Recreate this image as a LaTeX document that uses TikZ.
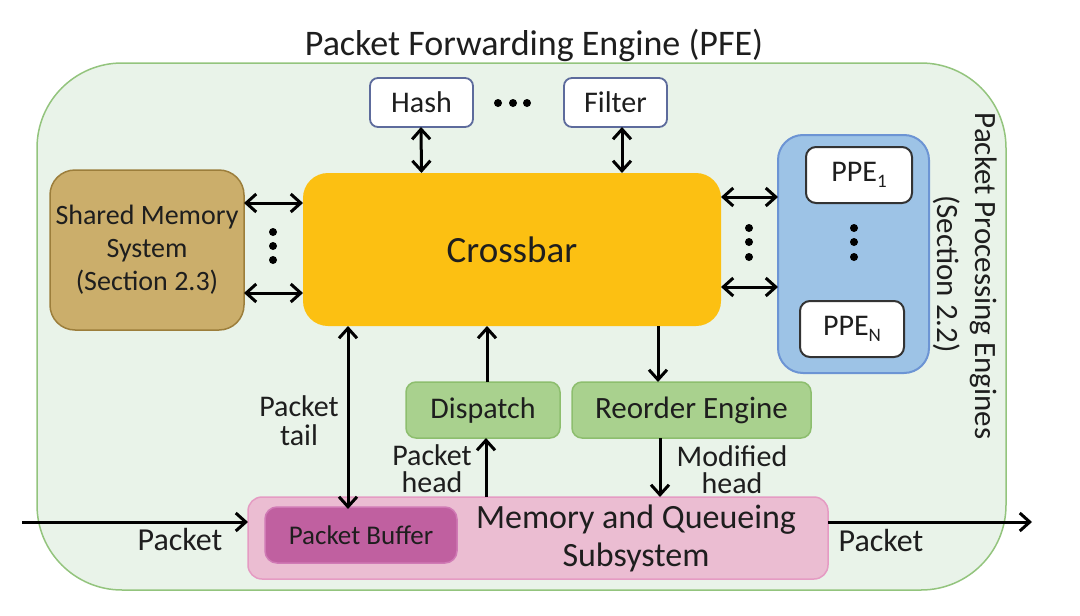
\documentclass[tikz,border=0pt]{standalone}
\usepackage{fontspec}
\setmainfont{Carlito}
\usetikzlibrary{arrows.meta,calc}
\definecolor{outerfill}{HTML}{E9F3E9}
\definecolor{outerdraw}{HTML}{93C47D}
\definecolor{hashdraw}{HTML}{5D6B9C}
\definecolor{xbar}{HTML}{FCC012}
\definecolor{shfill}{HTML}{CBAE6B}
\definecolor{shdraw}{HTML}{9C7E3B}
\definecolor{ppefill}{HTML}{9DC3E6}
\definecolor{ppedraw}{HTML}{6C94D4}
\definecolor{grfill}{HTML}{A9D18E}
\definecolor{grdraw}{HTML}{8DBE6E}
\definecolor{pkfill}{HTML}{EBBDD2}
\definecolor{pkdraw}{HTML}{E59BC3}
\definecolor{bffill}{HTML}{C060A0}
\definecolor{bfdraw}{HTML}{D07AB5}
\definecolor{txt}{HTML}{1E1E1E}
\newcommand{\fs}[2]{\fontsize{#1}{#2}\selectfont}
\tikzset{
  box/.style={inner sep=0pt, outer sep=0pt, align=center, text=txt},
  conn/.style={line width=3pt, black},
  tip/.style={-{Straight Barb[length=10pt,width=18pt]}},
  dtip/.style={{Straight Barb[length=10pt,width=18pt]}-{Straight Barb[length=10pt,width=18pt]}},
  lbl/.style={inner sep=0pt, align=center, text=txt, font=\fs{30}{27}},
}
\begin{document}
\begin{tikzpicture}[x=1pt,y=-1pt]
\useasboundingbox (0,0) rectangle (1080,616);
% outer PFE box
\node[box, draw=outerdraw, fill=outerfill, line width=1.5pt, rounded corners=85pt,
  minimum width=969pt, minimum height=527pt] (pfe) at (521.5,326.5) {};
\node[lbl, anchor=base, font=\fs{36}{36}] (title) at (534,55) {Packet Forwarding Engine (PFE)};
% Hash / Filter
\node[box, draw=hashdraw, fill=white, line width=1.8pt, rounded corners=8pt,
  minimum width=103pt, minimum height=49pt, font=\fs{30}{30}] (hash) at (421.5,102.5) {Hash};
\node[box, draw=hashdraw, fill=white, line width=1.8pt, rounded corners=8pt,
  minimum width=103pt, minimum height=49pt, font=\fs{30}{30}] (filter) at (615.5,102.5) {Filter};
\fill[black] (498,103) circle (4pt) (513,103) circle (4pt) (527,103) circle (4pt);
% Crossbar
\node[box, fill=xbar, rounded corners=25pt, minimum width=418pt, minimum height=153pt,
  font=\fs{37}{37}] (xb) at (512,249.5) {Crossbar};
% Shared memory
\node[box, draw=shdraw, fill=shfill, line width=1.5pt, rounded corners=25pt,
  minimum width=194pt, minimum height=160pt, font=\fs{28}{33}] (shm) at (147,250)
  {Shared Memory\\System\\(Section 2.3)};
% PPE container
\node[box, draw=ppedraw, fill=ppefill, line width=2pt, rounded corners=25pt,
  minimum width=151pt, minimum height=238pt] (ppe) at (853.5,254) {};
\node[box, draw=black!80, fill=white, line width=2pt, rounded corners=10pt,
  minimum width=106pt, minimum height=56pt, font=\fs{30}{30}] (ppe1) at (859,175)
  {PPE\raisebox{-0.22em}{\fs{19}{19}1}};
\node[box, draw=black!80, fill=white, line width=2pt, rounded corners=10pt,
  minimum width=104pt, minimum height=56pt, font=\fs{30}{30}] (ppen) at (852,329)
  {PPE\raisebox{-0.22em}{\fs{19}{19}N}};
\fill[black] (854,228) circle (4pt) (854,242) circle (4pt) (854,257) circle (4pt);
\node[lbl, rotate=-90, font=\fs{31}{31}] (ppelbl) at (984,276) {Packet Processing Engines};
\node[lbl, rotate=-90, font=\fs{31}{31}] (ppesec) at (947,274) {(Section 2.2)};
% Dispatch / Reorder
\node[box, draw=grdraw, fill=grfill, line width=1.5pt, rounded corners=10pt,
  minimum width=154pt, minimum height=56pt, font=\fs{30}{30}] (disp) at (483,410) {Dispatch};
\node[box, draw=grdraw, fill=grfill, line width=1.5pt, rounded corners=10pt,
  minimum width=239pt, minimum height=56pt, font=\fs{31}{31}] (reord) at (691.5,410) {Reorder Engine};
% Memory and queueing
\node[box, draw=pkdraw, fill=pkfill, line width=1.5pt, rounded corners=14pt,
  minimum width=580pt, minimum height=82pt] (mem) at (538,538) {};
\node[lbl, font=\fs{34}{38}] (memtxt) at (636,538) {Memory and Queueing\\Subsystem};
\node[box, draw=bfdraw, fill=bffill, line width=1.5pt, rounded corners=12pt,
  minimum width=192pt, minimum height=56pt, font=\fs{27}{27}] (buf) at (361,535) {Packet Buffer};
% connectors
\draw[conn, dtip] ([xshift=-0.5pt]hash.south) -- (hash.south |- xb.north);
\draw[conn, dtip] ([xshift=6.5pt]filter.south) -- ([xshift=6.5pt]filter.south |- xb.north);
\draw[conn, dtip] (shm.east |- 0,203) -- (xb.west |- 0,203);
\draw[conn, dtip] (shm.east |- 0,293) -- (xb.west |- 0,293);
\fill[black] (273,232) circle (4pt) (273,246) circle (4pt) (273,260) circle (4pt);
\draw[conn, dtip] (xb.east |- 0,197) -- (ppe.west |- 0,197);
\draw[conn, dtip] (xb.east |- 0,287) -- (ppe.west |- 0,287);
\fill[black] (749,228) circle (4pt) (749,242) circle (4pt) (749,257) circle (4pt);
\draw[conn, dtip] (348,0 |- xb.south) -- ([yshift=-2pt]348,0 |- buf.north);
\draw[conn, tip] (487,0 |- disp.north) -- (487,0 |- xb.south);
\draw[conn, tip] (486,0 |- mem.north) -- (486,0 |- disp.south);
\draw[conn, tip] (658,0 |- xb.south) -- (658,0 |- reord.north);
\draw[conn, tip] (660,0 |- reord.south) -- (660,0 |- mem.north);
\coordinate (pin) at (22,522);
\coordinate (pout) at (1032,522);
\draw[conn, tip] (pin) -- (mem.west |- pin);
\draw[conn, tip] (mem.east |- pout) -- (pout);
% labels
\node[lbl, font=\fs{30}{29}] (ltail) at (299,421) {Packet\\tail};
\node[lbl] (lhead) at (432,469) {Packet\\head};
\node[lbl] (lmod) at (732,470) {Modified\\head};
\node[lbl, anchor=base, font=\fs{32}{32}] (lpin) at (180,550) {Packet};
\node[lbl, anchor=base, font=\fs{32}{32}] (lpout) at (881,551) {Packet};
\end{tikzpicture}
\end{document}
